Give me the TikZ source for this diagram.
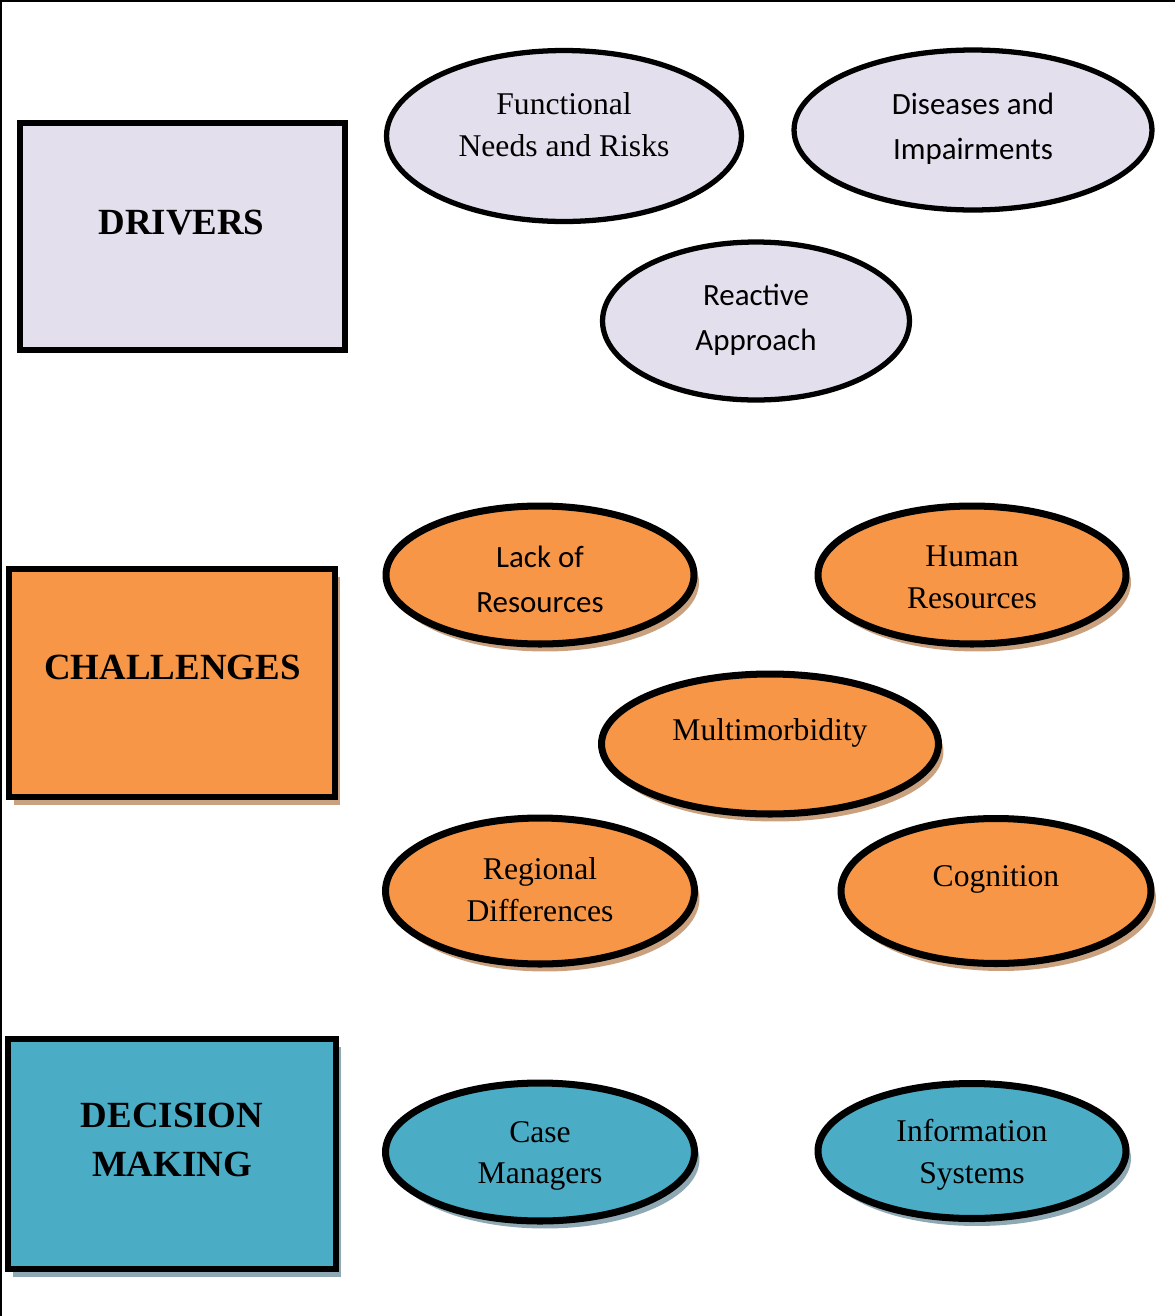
\documentclass[tikz,border=0pt]{standalone}
\usepackage{fontspec}
\setmainfont{Liberation Serif}
\newfontfamily\calibri{Carlito}
\usepackage{tikz}
\usetikzlibrary{shapes.geometric,shadows}

\definecolor{lavender}{HTML}{E4DFEC}
\definecolor{orangefill}{HTML}{F79646}
\definecolor{tealfill}{HTML}{4BACC6}
\definecolor{tanshadow}{HTML}{C9A17F}
\definecolor{blueshadow}{HTML}{8FA9B4}

\begin{document}
\begin{tikzpicture}[x=0.02cm, y=-0.02cm,
		box_style/.style={rectangle,draw=black,line width=3.4pt,inner sep=0pt},
		drv_style/.style={ellipse,draw=black,line width=3pt,fill=lavender,inner sep=0pt},
		chl_style/.style={ellipse,draw=black,line width=4pt,fill=orangefill,inner sep=0pt,
			drop shadow={shadow xshift=0.1cm,shadow yshift=-0.15cm,fill=tanshadow,opacity=1}},
		dec_style/.style={ellipse,draw=black,line width=4pt,fill=tealfill,inner sep=0pt,
			drop shadow={shadow xshift=0.1cm,shadow yshift=-0.15cm,fill=blueshadow,opacity=1}},
		head_style/.style={align=center,font=\fontsize{21}{28.4}\selectfont\bfseries},
		serif_style/.style={align=center,font=\fontsize{18}{23.8}\selectfont},
		sans_style/.style={align=center,font=\fontsize{17.6}{25.5}\selectfont\calibri}]

		\useasboundingbox (0,0) rectangle (1175,1316);
		\draw[line width=1.4pt] (0,1.25) -- (1175,1.25);
		\draw[line width=1.4pt] (1.25,0) -- (1.25,1316);

		% left boxes
		\node[box_style,fill=lavender,minimum width=6.5cm,minimum height=4.54cm] (drivers) at (182.5,236.5) {};
		\node[box_style,fill=orangefill,minimum width=6.52cm,minimum height=4.56cm,
			drop shadow={shadow xshift=0.1cm,shadow yshift=-0.16cm,fill=tanshadow,opacity=1}] (challenges) at (172,683) {};
		\node[box_style,fill=tealfill,minimum width=6.56cm,minimum height=4.6cm,
			drop shadow={shadow xshift=0.1cm,shadow yshift=-0.16cm,fill=blueshadow,opacity=1}] (decision) at (172,1154) {};

		\node[head_style] (driversT) at (181.5,223) {DRIVERS};
		\node[head_style] (challengesT) at (172.5,667) {CHALLENGES};
		\node[head_style] (decisionT) at (172,1140) {DECISION\\MAKING};

		% drivers
		\node[drv_style,minimum width=7.1cm,minimum height=3.42cm] (fnr) at (564,136) {};
		\node[drv_style,minimum width=7.16cm,minimum height=3.2cm] (dis) at (973,130) {};
		\node[drv_style,minimum width=6.14cm,minimum height=3.16cm] (rea) at (756,321) {};

		\node[serif_style] (fnrT) at (564,125) {Functional\\Needs and Risks};
		\node[sans_style] (disT) at (973,129) {Diseases and\\Impairments};
		\node[sans_style] (reaT) at (756,320) {Reactive\\Approach};

		% challenges
		\node[chl_style,minimum width=6.16cm,minimum height=2.76cm] (lack) at (540,575) {};
		\node[chl_style,minimum width=6.16cm,minimum height=2.76cm] (hum) at (972,575) {};
		\node[chl_style,minimum width=6.74cm,minimum height=2.8cm] (mul) at (770,744) {};
		\node[chl_style,minimum width=6.18cm,minimum height=2.92cm] (reg) at (540,891) {};
		\node[chl_style,minimum width=6.2cm,minimum height=2.9cm] (cog) at (996,891) {};

		\node[sans_style] (lackT) at (540,579) {Lack of\\Resources};
		\node[serif_style] (humT) at (972,577) {Human\\Resources};
		\node[serif_style] (mulT) at (770,733) {Multimorbidity};
		\node[serif_style] (regT) at (540,890) {Regional\\Differences};
		\node[serif_style] (cogT) at (996,879) {Cognition};

		% decision making
		\node[dec_style,minimum width=6.18cm,minimum height=2.76cm] (cas) at (540,1152) {};
		\node[dec_style,minimum width=6.16cm,minimum height=2.7cm] (inf) at (972,1151) {};

		\node[serif_style] (casT) at (540,1156) {Case\\Managers};
		\node[serif_style] (infT) at (972,1155) {Information\\Systems};

\end{tikzpicture}
\end{document}
